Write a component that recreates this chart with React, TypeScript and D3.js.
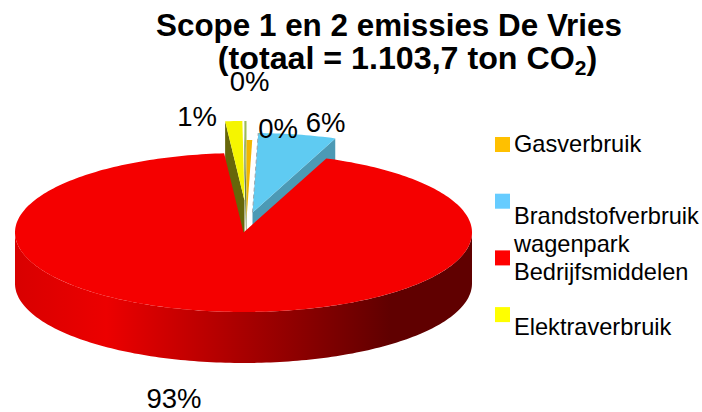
import React from "react";
import * as d3 from "d3";

const titleLines = ["Scope 1 en 2 emissies De Vries", "(totaal = 1.103,7 ton CO", "2", ")"];
const categories = ["Gasverbruik", "Brandstofverbruik wagenpark", "Bedrijfsmiddelen", "Elektraverbruik", "Overig"];
const values = [0.4, 5.5, 92.75, 1.2, 0.15];
const topColors = ["#f2b600", "#5fcbf2", "#f50000", "#f5f500", "#9bbb59"];
const legendColors = ["#ffc000", "#66ccff", "#ff0000", "#ffff00"];
const wallColors = ["#8f6c00", "#4c9ab5", "#a00000", "#66660a", "#6b8040"];
const legendLines = [["Gasverbruik"], ["Brandstofverbruik", "wagenpark"], ["Bedrijfsmiddelen"], ["Elektraverbruik"]];

// layout: explosion offsets of the slices (px)
const explodeX = [3, 9, 0, 1, 3];
const explodeY = [-13, -20, 0, -32, -32];
const labelDx = [34.5, 82, -69.5, -46.5, 6];
const labelDy = [-94, -100, 176, -106, -141];

const W = 702, H = 412;
const cx = 243.5, cy = 232.5, rx = 228.5, ry = 79.5, depth = 51;
const FONT = "'Liberation Sans', Arial, sans-serif";

// The pie starts at 12 o'clock and runs clockwise.
const pie = d3.pie<number>().sort(null).startAngle(0).endAngle(2 * Math.PI);
const arcs = pie(values).map((a, i) => ({ ...a, i }));
const project = (angle: number, r = 1): [number, number] => [
  rx * r * Math.sin(angle),
  -ry * r * Math.cos(angle),
];
const line = d3.line<[number, number]>();

function outerPts(a0: number, a1: number, ox: number, oy: number): [number, number][] {
  const n = Math.max(2, Math.ceil(Math.abs(a1 - a0) / 0.02));
  return d3.range(n + 1).map((k) => {
    const [x, y] = project(a0 + ((a1 - a0) * k) / n);
    return [cx + ox + x, cy + oy + y] as [number, number];
  });
}

export default function App() {
  const slice = (i: number) => {
    const a = arcs[i];
    const ox = explodeX[i], oy = explodeY[i];
    const apex: [number, number] = [cx + ox, cy + oy];
    const outer = outerPts(a.startAngle, a.endAngle, ox, oy);
    return { apex, outer };
  };
  const sunk = (p: [number, number]): [number, number] => [p[0], p[1] + depth];
  const face = (p: [number, number], q: [number, number]) =>
    line([p, q, sunk(q), sunk(p)]) + "Z";

  const exploded = [4, 3, 0, 1];
  const red = slice(2);
  const redFront = outerPts(Math.PI / 2, (3 * Math.PI) / 2, 0, 0);

  return (
    <svg width={W} height={H} style={{ position: "absolute", left: 0, top: 0, background: "#fff" }} fontFamily={FONT}>
      <defs>
        <linearGradient id="redWall" gradientUnits="userSpaceOnUse" x1={cx - rx} x2={cx + rx} y1={0} y2={0}>
          <stop offset="0" stopColor="#d80000" />
          <stop offset="0.2" stopColor="#ec0000" />
          <stop offset="0.5" stopColor="#a80000" />
          <stop offset="0.82" stopColor="#600000" />
          <stop offset="1" stopColor="#600000" />
        </linearGradient>
      </defs>

      {/* exploded slices: walls then tops */}
      {exploded.map((i) => {
        const { apex, outer } = slice(i);
        const first = outer[0], last = outer[outer.length - 1];
        return (
          <g key={i}>
            {i === 1 ? (
              <path d={face(apex, last)} fill={wallColors[i]} />
            ) : (
              <path d={face(apex, first)} fill={wallColors[i]} />
            )}
            <path d={line([apex, ...outer]) + "Z"} fill={topColors[i]} />
            {i === 1 && (
              <path d={line([apex, first])!} fill="none" stroke="#9aa5aa" strokeWidth={1} strokeDasharray="4 3" />
            )}
          </g>
        );
      })}

      {/* large slice: wall and top */}
      <path d={line([...redFront, ...redFront.map(sunk).reverse()]) + "Z"} fill="url(#redWall)" />
      <path d={line([red.apex, ...red.outer]) + "Z"} fill={topColors[2]} />

      {/* title */}
      <g fontWeight="bold" fill="#000" textAnchor="middle">
        <text x={389} y={36} fontSize={31.4}>{titleLines[0]}</text>
        <text x={407.5} y={69} fontSize={32.2}>
          {titleLines[1]}
          <tspan fontSize={21} dy={6}>{titleLines[2]}</tspan>
          <tspan dy={-6}>{titleLines[3]}</tspan>
        </text>
      </g>

      {/* data labels */}
      <g fontSize={27.5} fill="#000" textAnchor="middle">
        {arcs.map((a, i) => (
          <text key={i} x={cx + labelDx[i]} y={cy - 0.5 + labelDy[i]}>
            {d3.format(".0f")(values[i]) + "%"}
          </text>
        ))}
      </g>

      {/* legend */}
      <g fontSize={23.6} fill="#000">
        {legendColors.map((c, i) => (
          <rect key={c} x={495} y={137 + i * 56.7} width={15} height={15} fill={c} />
        ))}
        <text x={514} y={152}>{legendLines[0][0]}</text>
        <text x={514} y={224}>{legendLines[1][0]}</text>
        <text x={514} y={252}>{legendLines[1][1]}</text>
        <text x={514} y={280}>{legendLines[2][0]}</text>
        <text x={514} y={335}>{legendLines[3][0]}</text>
      </g>
    </svg>
  );
}
